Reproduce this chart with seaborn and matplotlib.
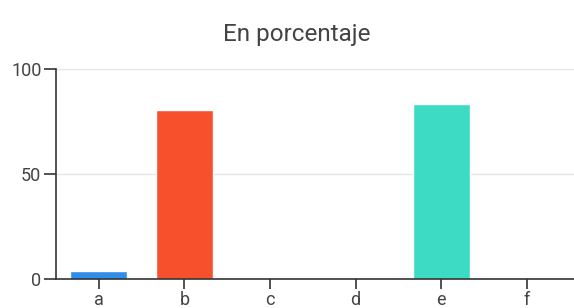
import matplotlib
matplotlib.use("Agg")
import matplotlib.pyplot as plt
import seaborn as sns

# datos
categorias = ["a", "b", "c", "d", "e", "f"]
porcentajes = [3.8, 80.5, 0, 0, 83.3, 0]
colores = ["#2f8fe8", "#f6502d", "#f6502d", "#f6502d", "#3ddbc4", "#3ddbc4"]
yticks = [0, 50, 100]

sns.set_style("white")
plt.rcParams["font.family"] = ["Roboto", "DejaVu Sans"]

fig = plt.figure(figsize=(5.74, 3.08), dpi=100)
ax = fig.add_axes([56 / 574, 29 / 308, 1 - 56 / 574, 210 / 308])

sns.barplot(x=categorias, y=porcentajes, hue=categorias, palette=colores,
            width=0.67, legend=False, ax=ax, saturation=1)

ax.set_ylim(0, 100)
ax.set_xlim(-0.5, 5.55)
ax.set_yticks(yticks)
ax.yaxis.grid(True, color="#e3e3e3", linewidth=0.9)
ax.set_axisbelow(True)
for s in ["top", "right"]:
    ax.spines[s].set_visible(False)
for s in ["left", "bottom"]:
    ax.spines[s].set_color("#333333")
    ax.spines[s].set_linewidth(1.2)
ax.tick_params(axis="y", left=True, length=8.5, width=1.2, color="#333333",
               labelsize=13, labelcolor="#444444", pad=2)
ax.tick_params(axis="x", bottom=True, length=7.5, width=1.2, color="#333333",
               labelsize=13, labelcolor="#444444", pad=1)
ax.set_xlabel("")
ax.set_ylabel("")
fig.suptitle("En porcentaje", x=0.517, y=0.925, fontsize=17.5, color="#444444")

fig.savefig("out.png", dpi=100)
